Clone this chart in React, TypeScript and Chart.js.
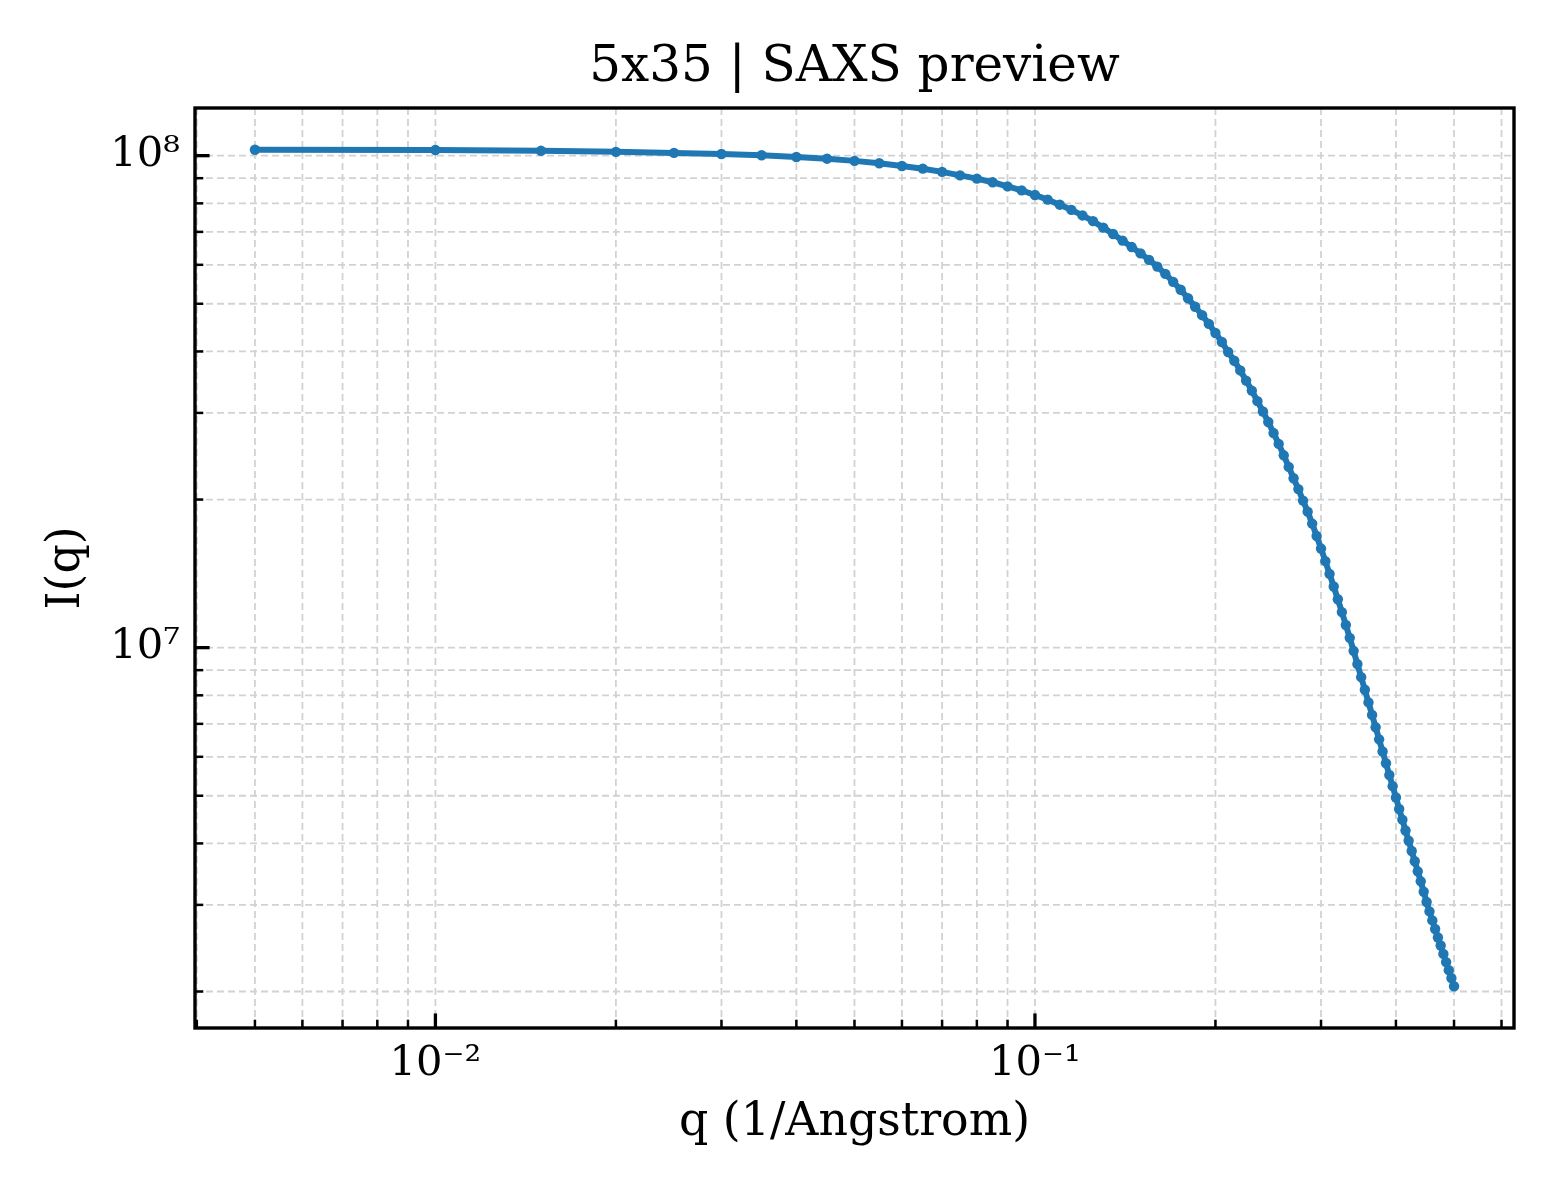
import React, { useEffect, useRef } from 'react';
import { Chart, registerables } from 'chart.js';

Chart.register(...registerables);

const TITLE = '5x35 | SAXS preview';
const X_TITLE = 'q (1/Angstrom)';
const Y_TITLE = 'I(q)';

const Q_VALUES = [
  0.005, 0.01, 0.015, 0.02, 0.025, 0.03, 0.035, 0.04, 0.045, 0.05,
  0.055, 0.06, 0.065, 0.07, 0.075, 0.08, 0.085, 0.09, 0.095, 0.1,
  0.105, 0.11, 0.115, 0.12, 0.125, 0.13, 0.135, 0.14, 0.145, 0.15,
  0.155, 0.16, 0.165, 0.17, 0.175, 0.18, 0.185, 0.19, 0.195, 0.2,
  0.205, 0.21, 0.215, 0.22, 0.225, 0.23, 0.235, 0.24, 0.245, 0.25,
  0.255, 0.26, 0.265, 0.27, 0.275, 0.28, 0.285, 0.29, 0.295, 0.3,
  0.305, 0.31, 0.315, 0.32, 0.325, 0.33, 0.335, 0.34, 0.345, 0.35,
  0.355, 0.36, 0.365, 0.37, 0.375, 0.38, 0.385, 0.39, 0.395, 0.4,
  0.405, 0.41, 0.415, 0.42, 0.425, 0.43, 0.435, 0.44, 0.445, 0.45,
  0.455, 0.46, 0.465, 0.47, 0.475, 0.48, 0.485, 0.49, 0.495, 0.5,
];

const INTENSITY = [
  1.028e8, 1.027e8, 1.023e8, 1.018e8, 1.013e8, 1.008e8, 1.002e8, 9.94e7, 9.86e7, 9.76e7,
  9.65e7, 9.53e7, 9.41e7, 9.27e7, 9.12e7, 8.98e7, 8.83e7, 8.66e7, 8.5e7, 8.32e7,
  8.14e7, 7.95e7, 7.76e7, 7.56e7, 7.36e7, 7.14e7, 6.93e7, 6.72e7, 6.52e7, 6.33e7,
  6.14e7, 5.95e7, 5.75e7, 5.54e7, 5.34e7, 5.13e7, 4.93e7, 4.74e7, 4.55e7, 4.36e7,
  4.18e7, 3.99e7, 3.83e7, 3.66e7, 3.49e7, 3.33e7, 3.17e7, 3.02e7, 2.875e7, 2.73e7,
  2.595e7, 2.46e7, 2.33e7, 2.21e7, 2.1e7, 1.99e7, 1.89e7, 1.787e7, 1.686e7, 1.59e7,
  1.499e7, 1.412e7, 1.331e7, 1.254e7, 1.181e7, 1.112e7, 1.047e7, 9.85e6, 9.26e6, 8.71e6,
  8.21e6, 7.74e6, 7.3e6, 6.89e6, 6.51e6, 6.15e6, 5.82e6, 5.51e6, 5.23e6, 4.96e6,
  4.7e6, 4.47e6, 4.25e6, 4.05e6, 3.86e6, 3.68e6, 3.51e6, 3.35e6, 3.19e6, 3.04e6,
  2.91e6, 2.79e6, 2.68e6, 2.575e6, 2.48e6, 2.385e6, 2.295e6, 2.21e6, 2.13e6, 2.05e6,
];

const X_TICKS = [
  0.004, 0.005, 0.006, 0.007, 0.008, 0.009, 0.01,
  0.02, 0.03, 0.04, 0.05, 0.06, 0.07, 0.08, 0.09, 0.1,
  0.2, 0.3, 0.4, 0.5, 0.6,
];
const X_MAJOR_TICKS = [0.01, 0.1];
const X_MAJOR_LABELS = ['10⁻²', '10⁻¹'];

const Y_TICKS = [
  2e6, 3e6, 4e6, 5e6, 6e6, 7e6, 8e6, 9e6, 1e7,
  2e7, 3e7, 4e7, 5e7, 6e7, 7e7, 8e7, 9e7, 1e8,
];
const Y_MAJOR_TICKS = [1e7, 1e8];
const Y_MAJOR_LABELS = ['10⁷', '10⁸'];

const X_MIN = 0.003972;
const X_MAX = 0.6295;
const Y_MIN = 1.686e6;
const Y_MAX = 1.25e8;

const FONT = '"DejaVu Serif", serif';
const LINE_COLOR = '#1f77b4';
const GRID_COLOR = '#d2d2d2';

function labelFor(value: number, majors: number[], labels: string[]) {
  for (let i = 0; i < majors.length; i++) {
    if (Math.abs(value - majors[i]) / majors[i] < 1e-9) return labels[i];
  }
  return '';
}

function isMajor(value: number, majors: number[]) {
  return majors.some((m) => Math.abs(value - m) / m < 1e-9);
}

const mplPlugin = {
  id: 'mplFrame',
  beforeDatasetsDraw(chart: any) {
    const { ctx, chartArea: a, scales } = chart;
    const xs = scales.x;
    const ys = scales.y;
    ctx.save();
    ctx.beginPath();
    ctx.rect(a.left, a.top, a.right - a.left, a.bottom - a.top);
    ctx.clip();
    ctx.strokeStyle = GRID_COLOR;
    ctx.lineWidth = 1.8;
    ctx.setLineDash([7, 4]);
    for (const v of X_TICKS) {
      const px = xs.getPixelForValue(v);
      ctx.beginPath();
      ctx.moveTo(px, a.bottom);
      ctx.lineTo(px, a.top);
      ctx.stroke();
    }
    for (const v of Y_TICKS) {
      const py = ys.getPixelForValue(v);
      ctx.beginPath();
      ctx.moveTo(a.left, py);
      ctx.lineTo(a.right, py);
      ctx.stroke();
    }
    ctx.restore();
  },
  afterDatasetsDraw(chart: any) {
    const { ctx, chartArea: a, scales } = chart;
    const xs = scales.x;
    const ys = scales.y;
    ctx.save();
    ctx.setLineDash([]);
    ctx.strokeStyle = '#000';
    for (const v of X_TICKS) {
      const px = xs.getPixelForValue(v);
      if (px < a.left - 0.5 || px > a.right + 0.5) continue;
      const major = isMajor(v, X_MAJOR_TICKS);
      ctx.lineWidth = major ? 3.3 : 2.5;
      ctx.beginPath();
      ctx.moveTo(px, a.bottom);
      ctx.lineTo(px, a.bottom - (major ? 14.6 : 8.3));
      ctx.stroke();
    }
    for (const v of Y_TICKS) {
      const py = ys.getPixelForValue(v);
      if (py < a.top - 0.5 || py > a.bottom + 0.5) continue;
      const major = isMajor(v, Y_MAJOR_TICKS);
      ctx.lineWidth = major ? 3.3 : 2.5;
      ctx.beginPath();
      ctx.moveTo(a.left, py);
      ctx.lineTo(a.left + (major ? 14.6 : 8.3), py);
      ctx.stroke();
    }
    ctx.lineWidth = 3.4;
    ctx.strokeRect(a.left, a.top, a.right - a.left, a.bottom - a.top);
    ctx.restore();
  },
};

export default function App() {
  const ref = useRef<HTMLCanvasElement>(null);

  useEffect(() => {
    const canvas = ref.current;
    if (!canvas) return;
    const points = Q_VALUES.map((q, i) => ({ x: q, y: INTENSITY[i] }));
    const chart = new Chart(canvas, {
      type: 'line',
      data: {
        datasets: [
          {
            data: points,
            borderColor: LINE_COLOR,
            backgroundColor: LINE_COLOR,
            borderWidth: 6,
            borderJoinStyle: 'round',
            pointRadius: 5.2,
            pointBorderWidth: 0,
            pointBackgroundColor: LINE_COLOR,
            tension: 0,
            fill: false,
          },
        ],
      },
      options: {
        responsive: false,
        animation: false,
        devicePixelRatio: 1,
        layout: { padding: { left: 0, right: 46, top: 0, bottom: 0 } },
        plugins: {
          legend: { display: false },
          tooltip: { enabled: false },
          title: {
            display: true,
            text: TITLE,
            fullSize: false,
            color: '#000',
            font: { family: FONT, size: 50, weight: 'normal', lineHeight: 1.2 },
            padding: { top: 38, bottom: 10 },
          },
        },
        scales: {
          x: {
            type: 'logarithmic',
            position: 'bottom',
            min: X_MIN,
            max: X_MAX,
            afterBuildTicks: (s: any) => {
              s.ticks = X_TICKS.map((v) => ({ value: v }));
            },
            afterFit: (s: any) => {
              s.height = 172;
            },
            grid: { display: false, drawTicks: false },
            border: { display: false },
            ticks: {
              autoSkip: false,
              maxRotation: 0,
              minRotation: 0,
              padding: 11,
              color: '#000',
              font: { family: FONT, size: 41.67, lineHeight: 1.2 },
              callback: (v: any) => labelFor(Number(v), X_MAJOR_TICKS, X_MAJOR_LABELS),
            },
            title: {
              display: true,
              text: X_TITLE,
              color: '#000',
              font: { family: FONT, size: 45.83, lineHeight: 1.2 },
              padding: { top: 0, bottom: 49.5 },
            },
          },
          y: {
            type: 'logarithmic',
            position: 'left',
            min: Y_MIN,
            max: Y_MAX,
            afterBuildTicks: (s: any) => {
              s.ticks = Y_TICKS.map((v) => ({ value: v }));
            },
            afterFit: (s: any) => {
              s.width = 195;
            },
            grid: { display: false, drawTicks: false },
            border: { display: false },
            ticks: {
              autoSkip: false,
              padding: 15,
              color: '#000',
              font: { family: FONT, size: 41.67, lineHeight: 1.2 },
              callback: (v: any) => labelFor(Number(v), Y_MAJOR_TICKS, Y_MAJOR_LABELS),
            },
            title: {
              display: true,
              text: Y_TITLE,
              color: '#000',
              font: { family: FONT, size: 45.83, lineHeight: 1.2 },
              padding: { top: 39.5, bottom: 0 },
            },
          },
        },
      } as any,
      plugins: [mplPlugin],
    });
    return () => chart.destroy();
  }, []);

  return (
    <div style={{ position: 'absolute', left: 0, top: 0, width: 1560, height: 1200, background: '#fff' }}>
      <canvas ref={ref} width={1560} height={1200} style={{ display: 'block', width: 1560, height: 1200 }} />
    </div>
  );
}
